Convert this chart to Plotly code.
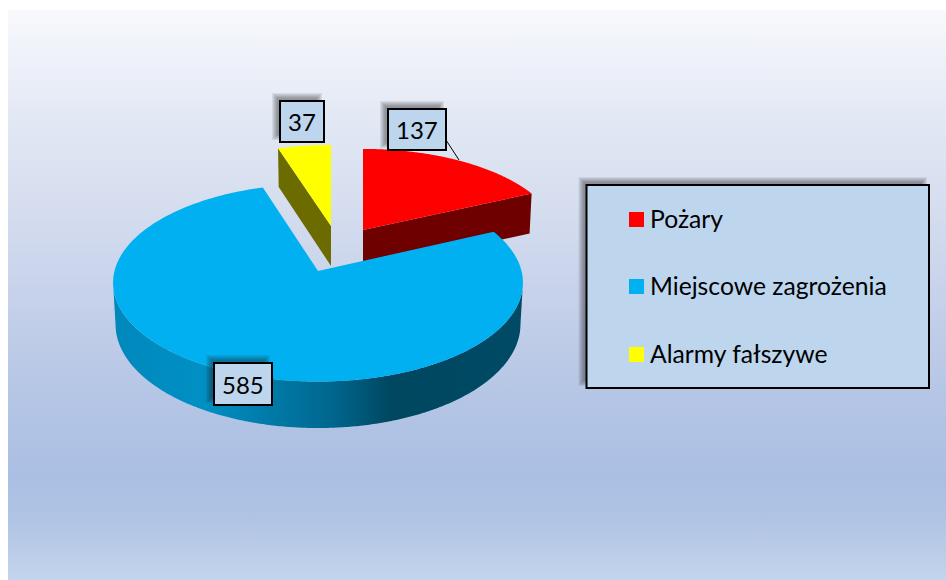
import numpy as np
import plotly.graph_objects as go

# ---- data ----
CATEGORIES = ["Pożary", "Miejscowe zagrożenia", "Alarmy fałszywe"]
VALUES = [137, 585, 37]

# ---- style ----
TOP_COLORS = ["#ff0000", "#00b0f0", "#ffff00"]
WALL_COLORS = ["#6e0000", None, "#6b6b00"]
APEX = [(363, 230), (318, 271), (331, 226)]
SCALE_X = [0.96, 1.0, 0.96]
SCALE_Y = [0.93, 1.0, 0.93]
DEPTH = [42, 41, 43]
FONT = "Lato"

BG_STOPS = [(10, "#f9f9fc"), (40, "#f2f4fb"), (120, "#e2e8f4"), (200, "#d6deef"),
            (300, "#c6d1ea"), (400, "#b4c5e5"), (480, "#abbfe4"), (520, "#b0c4e4"),
            (580, "#c4d4ec")]
WALL_STOPS = [(116, "#0088bb"), (200, "#0090c4"), (270, "#007aa8"), (330, "#00678f"),
              (360, "#00587a"), (390, "#00475f"), (520, "#004a66")]

A, B, K = 203.5, 97.5, 0.118


def project(theta, i, depth=0.0):
    """Map a pie angle (radians, clockwise from the back) to the page through a perspective."""
    xw, yw = np.sin(theta), np.cos(theta)
    s = 1.0 / (1.0 + K * yw)
    shrink = 1.0 - 0.012 * (depth > 0)
    return (APEX[i][0] + A * SCALE_X[i] * xw * s * shrink,
            APEX[i][1] - B * SCALE_Y[i] * yw * s + depth * s)


def gradient(stops):
    lo, hi = stops[0][0], stops[-1][0]
    return [[(p - lo) / (hi - lo), c] for p, c in stops], lo, hi


share = np.array(VALUES, dtype=float) / sum(VALUES) * 2 * np.pi
ends = np.cumsum(share)
starts = ends - share

fig = go.Figure()

# page background
scale_bg, lo, hi = gradient(BG_STOPS)
fig.add_trace(go.Scatter(
    x=[8, 946, 946, 8, 8], y=[10, 10, 580, 580, 10], mode="none", fill="toself",
    fillgradient=dict(type="vertical", colorscale=scale_bg, start=lo, stop=hi),
    hoverinfo="skip", showlegend=False))


def add_poly(xs, ys, **kw):
    fig.add_trace(go.Scatter(x=np.round(xs, 2).tolist(), y=np.round(ys, 2).tolist(),
                             mode="none", fill="toself", hoverinfo="skip",
                             showlegend=False, **kw))


def top_face(i):
    th = np.linspace(starts[i], ends[i], 240)
    x, y = project(th, i)
    return np.r_[APEX[i][0], x, APEX[i][0]], np.r_[APEX[i][1], y, APEX[i][1]]


# yellow (index 2) and red (index 0) first, blue over them
for i in (2, 0):
    edge = starts[i] if i == 2 else ends[i]
    ex, ey = project(edge, i)
    bx, by = project(edge, i, DEPTH[i])
    ax, ay = APEX[i]
    add_poly(np.array([ax, ex, bx, ax, ax]), np.array([ay, ey, by, ay + 40, ay]),
             fillcolor=WALL_COLORS[i])
    fx, fy = top_face(i)
    add_poly(fx, fy, fillcolor=TOP_COLORS[i])

# blue outer wall between the two silhouette tangents, then blue top
tangent = np.arccos(-K)
th = np.linspace(tangent, 2 * np.pi - tangent, 300)
tx, ty = project(th, 1)
bx, by = project(th, 1, DEPTH[1])
scale_w, lo, hi = gradient(WALL_STOPS)
add_poly(np.r_[tx, bx[::-1], tx[0]], np.r_[ty, by[::-1], ty[0]],
         fillgradient=dict(type="horizontal", colorscale=scale_w, start=lo, stop=hi))
fx, fy = top_face(1)
add_poly(fx, fy, fillcolor=TOP_COLORS[1])

shapes = []
annots = []


def shadow(x0, y0, x1, y1, off=5, blur=6, alpha=0.085):
    for j in range(blur):
        g = blur / 2 - j
        shapes.append(dict(type="rect", x0=x0 - off - g, y0=y0 - off - g,
                           x1=x1 - off + g, y1=y1 - off + g, layer="above",
                           fillcolor=f"rgba(30,30,40,{alpha})", line_width=0))


def box(x0, y0, x1, y1):
    shapes.append(dict(type="rect", x0=x0, y0=y0, x1=x1, y1=y1, layer="above",
                       fillcolor="#bdd6ee", line=dict(color="#000000", width=2)))


# data labels
LABEL_BOXES = [(388, 109, 446, 150), (214, 363, 272, 405), (280, 101, 324, 142)]
shapes.append(dict(type="line", x0=446, y0=140, x1=459, y1=160, layer="above",
                   line=dict(color="#000000", width=1)))
for val, (x0, y0, x1, y1) in zip(VALUES, LABEL_BOXES):
    shadow(x0, y0, x1, y1, off=5)
    box(x0, y0, x1, y1)
    annots.append(dict(x=(x0 + x1) / 2, y=(y0 + y1) / 2, text=str(val), showarrow=False,
                       xref="x", yref="y", font=dict(family=FONT, size=24, color="#000000")))

# legend
shadow(586.5, 185, 929, 388)
box(586.5, 185, 929, 388)
LEGEND_Y = [218.5, 285.5, 353.5]
SWATCH_Y = [219.5, 286.5, 354.5]
for cat, col, ly, sy in zip(CATEGORIES, TOP_COLORS, LEGEND_Y, SWATCH_Y):
    shapes.append(dict(type="rect", x0=629, x1=644, y0=sy - 7.5, y1=sy + 7.5, layer="above",
                       fillcolor=col, line_width=0))
    annots.append(dict(x=648, y=ly, text=cat, showarrow=False, xanchor="left", xref="x", yref="y",
                       font=dict(family=FONT, size=24.7, color="#000000")))

fig.update_layout(
    width=946, height=580, margin=dict(l=0, r=0, t=0, b=0), autosize=False,
    paper_bgcolor="#ffffff", plot_bgcolor="#ffffff", showlegend=False,
    xaxis=dict(range=[0, 946], visible=False, fixedrange=True),
    yaxis=dict(range=[580, 0], visible=False, fixedrange=True),
    shapes=shapes, annotations=annots, hovermode=False)

fig.write_html("out.html", config=dict(displayModeBar=False),
               post_script="document.body.style.margin='0';document.body.style.overflow='hidden';")
